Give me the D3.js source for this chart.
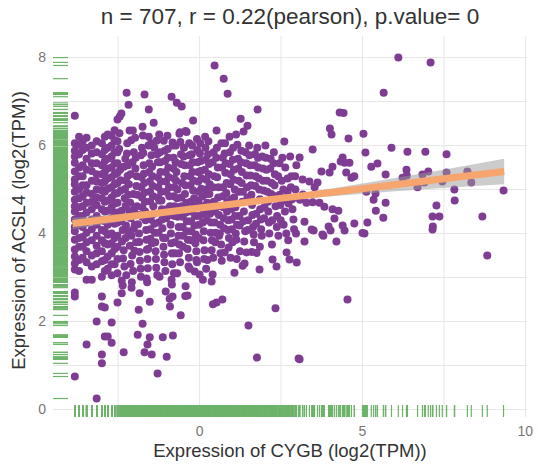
<!DOCTYPE html>
<html>
<head>
<meta charset="utf-8">
<script src="https://cdn.jsdelivr.net/npm/d3@7.9.0/dist/d3.min.js"></script>
<style>
  body { margin: 0; background: #fff; }
  text { font-family: "Liberation Sans", Arial, sans-serif; }
</style>
</head>
<body>
<div id="chart"></div>
<script>
// [CYGB, ACSL4] in log2(TPM)
const samples = [
  // low CYGB values sit in discrete columns
  [-3.83,6.68],[-3.83,6.05],[-3.83,5.75],[-3.83,5.61],[-3.83,5.41],[-3.83,5.23],[-3.83,4.95],[-3.83,4.77],
  [-3.83,4.5],[-3.83,4.32],[-3.83,4.15],[-3.83,4.05],[-3.83,3.86],[-3.83,3.64],[-3.83,3.48],[-3.83,3.18],
  [-3.83,2.66],[-3.83,2.57],[-3.83,0.75],[-3.83,5.88],[-3.83,5.12],[-3.83,4.62],[-3.83,3.32],
  [-3.7,6.2],[-3.7,5.8],[-3.7,5.5],[-3.7,5.0],[-3.7,4.6],[-3.7,4.2],[-3.7,3.9],[-3.7,3.4],
  [-3.7,6.02],[-3.7,5.3],[-3.7,4.8],[-3.7,4.4],[-3.7,3.7],[-3.7,3.15],
  [-3.59,5.9],[-3.59,5.3],[-3.59,4.85],[-3.59,4.4],[-3.59,3.7],
  [-3.59,6.1],[-3.59,5.55],[-3.59,5.1],[-3.59,4.62],[-3.59,4.15],[-3.59,3.92],[-3.59,3.45],
  [-3.47,6.18],[-3.47,5.7],[-3.47,5.45],[-3.47,5.1],[-3.47,4.7],[-3.47,4.25],[-3.47,3.8],[-3.47,3.6],[-3.47,2.95],[-3.47,1.48],
  [-3.47,5.95],[-3.47,4.93],[-3.47,4.48],[-3.47,4.02],[-3.47,3.35],
  [-3.31,6.0],[-3.31,5.6],[-3.31,5.2],[-3.31,4.9],[-3.31,4.55],[-3.31,4.1],[-3.31,3.5],[-3.31,2.95],
  [-3.31,5.82],[-3.31,5.42],[-3.31,4.72],[-3.31,4.32],[-3.31,3.85],[-3.31,3.25],
  [-3.16,6.1],[-3.16,5.85],[-3.16,5.35],[-3.16,5.0],[-3.16,4.65],[-3.16,4.4],[-3.16,3.95],[-3.16,3.3],[-3.16,2.0],[-3.16,0.25],
  [-3.16,5.6],[-3.16,5.18],[-3.16,4.82],[-3.16,4.2],[-3.16,3.72],[-3.16,3.55],
  [-3.0,6.05],[-3.0,5.55],[-3.0,5.15],[-3.0,4.8],[-3.0,4.3],[-3.0,3.85],[-3.0,3.6],[-3.0,2.57],[-3.0,2.34],[-3.0,1.25],[-3.0,1.05],
  [-3.0,5.8],[-3.0,5.35],[-3.0,4.98],[-3.0,4.55],[-3.0,4.08],[-3.0,3.37],[-3.0,3.02],
  [-2.91,6.2],[-2.91,5.9],[-2.91,5.4],[-2.91,4.95],[-2.91,4.5],[-2.91,4.05],[-2.91,3.4],[-2.91,2.32],[-2.91,1.66],
  [-2.91,5.65],[-2.91,5.18],[-2.91,4.72],[-2.91,4.28],[-2.91,3.78],[-2.91,3.15],
  [-2.82,6.25],[-2.82,5.7],[-2.82,5.25],[-2.82,4.75],[-2.82,4.2],[-2.82,3.75],[-2.82,3.2],[-2.82,1.66],
  [-2.82,5.95],[-2.82,5.48],[-2.82,5.02],[-2.82,4.52],[-2.82,3.97],[-2.82,3.48],
  [-2.7,6.0],[-2.7,5.5],[-2.7,5.05],[-2.7,4.6],[-2.7,4.0],[-2.7,3.55],[-2.7,3.05],[-2.7,1.98],[-2.7,1.52],
  [-2.7,6.22],[-2.7,5.75],[-2.7,5.28],[-2.7,4.82],[-2.7,4.35],[-2.7,3.78],[-2.7,3.3],
  [-2.61,6.35],[-2.61,5.85],[-2.61,5.35],[-2.61,4.9],[-2.61,4.45],[-2.61,3.9],[-2.61,3.3],
  [-2.61,6.12],[-2.61,5.6],[-2.61,5.12],[-2.61,4.68],[-2.61,4.22],[-2.61,3.65],
  [-2.52,6.59],[-2.52,6.1],[-2.52,5.6],[-2.52,5.15],[-2.52,4.7],[-2.52,4.25],[-2.52,3.7],[-2.52,3.1],[-2.52,2.43],
  [-2.52,5.85],[-2.52,5.38],[-2.52,4.92],[-2.52,4.48],[-2.52,3.95],[-2.52,3.42],
  // main cloud
  [-2.47,5.92],[-2.44,5.45],[-2.42,4.98],[-2.39,4.52],[-2.36,4.08],[-2.33,3.62],[-2.31,3.25],[-2.28,5.7],
  [-2.45,6.66],[-2.4,6.73],[-2.39,2.93],[-2.36,2.82],[-2.39,2.64],[-2.33,1.3],[-2.3,4.8],[-2.26,5.2],[-2.27,3.9],
  [-2.46,6.28],[-2.43,5.21],[-2.41,4.28],[-2.38,3.82],[-2.35,3.43],[-2.32,5.52],[-2.29,5.01],[-2.27,4.63],[-2.26,4.18],[-2.25,3.05],
  [-2.24,7.2],[-2.18,6.93],[-2.15,6.34],[-2.05,6.34],[-2.22,6.05],[-2.2,5.55],[-2.17,5.12],[-2.13,4.7],
  [-2.11,4.35],[-2.09,3.95],[-2.07,3.5],[-2.04,3.15],[-2.09,2.77],[-2.08,2.89],[-2.02,5.85],[-2.01,4.55],[-2.19,4.05],[-2.12,5.35],
  [-2.23,5.82],[-2.21,5.31],[-2.19,4.88],[-2.16,4.51],[-2.14,3.72],[-2.12,3.31],[-2.1,6.12],[-2.06,5.62],[-2.03,4.9],[-2.02,4.11],[-2.0,3.61],
  [-1.98,6.18],[-1.96,5.72],[-1.93,5.3],[-1.91,4.88],[-1.88,4.42],[-1.86,4.0],[-1.84,3.58],[-1.81,3.2],[-1.9,1.7],
  [-1.87,2.27],[-1.84,2.64],[-1.79,5.05],[-1.77,5.95],[-1.76,4.6],[-1.95,3.8],[-1.75,6.43],[-1.74,6.23],[-1.75,1.95],[-1.99,4.2],
  [-1.97,5.48],[-1.94,5.08],[-1.92,4.62],[-1.89,4.21],[-1.85,3.81],[-1.83,3.38],[-1.8,5.78],[-1.78,5.28],[-1.77,4.82],[-1.76,4.38],[-1.8,3.02],
  [-1.69,7.16],[-1.56,6.82],[-1.72,5.55],[-1.7,5.15],[-1.68,4.72],[-1.66,4.3],[-1.63,3.86],[-1.6,3.42],[-1.63,2.98],
  [-1.61,2.89],[-1.53,2.45],[-1.53,1.64],[-1.6,1.48],[-1.69,1.3],[-1.57,6.0],[-1.55,5.4],[-1.52,4.95],[-1.51,4.1],[-1.58,3.65],
  [-1.73,5.83],[-1.71,5.36],[-1.69,4.93],[-1.67,4.5],[-1.64,4.08],[-1.62,3.63],[-1.59,3.21],[-1.56,6.2],[-1.54,5.6],[-1.53,5.18],[-1.52,4.73],[-1.5,4.32],[-1.51,3.88],
  [-1.47,1.25],[-1.41,6.52],[-1.32,6.11],[-1.48,5.78],[-1.45,5.3],[-1.43,4.85],[-1.4,4.45],[-1.37,4.02],[-1.35,3.6],
  [-1.33,3.22],[-1.29,0.82],[-1.28,5.62],[-1.27,5.05],[-1.26,4.25],[-1.46,3.78],[-1.39,5.95],
  [-1.49,6.05],[-1.46,5.52],[-1.44,5.08],[-1.42,4.62],[-1.39,4.22],[-1.36,3.8],[-1.34,3.42],[-1.3,5.8],[-1.28,5.28],[-1.27,4.82],[-1.26,4.02],[-1.3,3.06],
  [-1.23,3.02],[-1.13,1.64],[-1.1,6.11],[-1.01,1.2],[-1.04,2.68],[-1.22,5.85],[-1.2,5.4],[-1.18,4.95],[-1.16,4.55],
  [-1.14,4.12],[-1.11,3.7],[-1.08,3.35],[-1.06,5.65],[-1.03,5.18],[-1.02,4.35],[-1.24,4.75],[-1.05,3.9],
  [-1.24,6.25],[-1.21,5.62],[-1.19,5.18],[-1.17,4.75],[-1.15,4.32],[-1.12,3.9],[-1.09,3.52],[-1.07,5.88],[-1.04,5.4],[-1.02,4.95],[-1.01,4.55],[-1.05,3.15],
  [-0.86,7.11],[-0.83,6.07],[-0.92,2.52],[-0.83,2.57],[-0.91,2.34],[-0.82,1.68],[-0.86,2.95],[-0.85,2.84],[-0.98,5.92],
  [-0.96,5.5],[-0.94,5.05],[-0.91,4.62],[-0.89,4.2],[-0.87,3.78],[-0.84,3.3],[-0.8,5.72],[-0.79,4.85],[-0.77,4.4],[-0.76,3.55],[-0.78,5.25],
  [-0.99,6.22],[-0.97,5.72],[-0.95,5.28],[-0.93,4.85],[-0.9,4.42],[-0.88,4.0],[-0.85,3.55],[-0.82,6.0],[-0.8,5.48],[-0.78,5.05],[-0.77,4.62],[-0.76,3.8],[-0.79,3.1],
  [-0.7,6.97],[-0.55,6.89],[-0.62,6.27],[-0.6,6.3],[-0.58,2.14],[-0.73,6.0],[-0.71,5.4],[-0.68,5.0],[-0.66,4.6],
  [-0.64,4.15],[-0.62,3.75],[-0.6,3.35],[-0.57,5.8],[-0.54,5.15],[-0.52,4.38],[-0.51,3.95],[-0.69,3.1],[-0.56,4.82],
  [-0.74,5.62],[-0.72,5.2],[-0.69,4.8],[-0.67,4.38],[-0.65,3.95],[-0.63,3.55],[-0.59,6.08],[-0.57,5.58],[-0.55,4.62],[-0.52,4.15],[-0.51,3.7],
  [-0.43,6.33],[-0.4,6.31],[-0.43,2.8],[-0.37,2.59],[-0.44,2.58],[-0.48,5.95],[-0.46,5.55],[-0.44,5.1],[-0.41,4.7],
  [-0.39,4.28],[-0.36,3.86],[-0.33,3.45],[-0.31,5.78],[-0.29,5.3],[-0.27,4.5],[-0.26,4.05],[-0.3,3.2],
  [-0.49,5.75],[-0.47,5.3],[-0.45,4.9],[-0.42,4.48],[-0.4,4.05],[-0.37,3.65],[-0.34,3.25],[-0.32,6.05],[-0.3,5.55],[-0.28,5.1],[-0.27,4.72],[-0.26,4.28],[-0.25,3.85],
  [-0.2,6.57],[-0.15,3.14],[-0.23,6.0],[-0.21,5.62],[-0.19,5.2],[-0.17,4.8],[-0.14,4.4],[-0.12,3.98],[-0.1,3.6],
  [-0.07,5.9],[-0.05,5.4],[-0.03,4.95],[-0.02,4.2],[-0.08,3.35],[-0.11,4.62],
  [-0.24,5.8],[-0.22,5.4],[-0.2,4.98],[-0.18,4.58],[-0.16,4.18],[-0.13,3.78],[-0.1,3.4],[-0.08,6.15],[-0.06,5.62],[-0.04,5.18],[-0.03,4.75],[-0.01,4.4],[-0.02,3.9],
  [0.0,3.07],[0.1,2.95],[0.02,6.05],[0.04,5.65],[0.06,5.25],[0.09,4.85],[0.11,4.45],[0.13,4.05],[0.15,3.62],
  [0.18,5.95],[0.2,5.0],[0.22,4.3],[0.24,3.4],[0.16,5.45],[0.23,4.7],
  [0.01,5.82],[0.03,5.42],[0.05,5.02],[0.08,4.62],[0.1,4.25],[0.12,3.85],[0.14,3.42],[0.17,6.2],[0.19,5.68],[0.21,5.22],[0.23,4.9],[0.24,4.48],[0.2,3.2],
  [0.46,7.82],[0.37,2.91],[0.4,3.07],[0.41,2.39],[0.27,6.1],[0.29,5.58],[0.31,5.12],[0.33,4.68],[0.35,4.25],
  [0.38,3.85],[0.42,3.45],[0.43,5.85],[0.45,5.3],[0.47,4.5],[0.49,4.02],
  [0.26,5.8],[0.28,5.35],[0.3,4.9],[0.32,4.45],[0.34,4.02],[0.37,3.62],[0.4,5.62],[0.42,5.05],[0.44,4.72],[0.46,4.25],[0.48,3.8],
  [0.74,7.52],[0.52,6.34],[0.52,2.43],[0.7,2.5],[0.53,5.95],[0.56,5.5],[0.58,5.05],[0.61,4.62],[0.63,4.2],
  [0.66,3.75],[0.68,3.38],[0.71,5.72],[0.72,4.85],[0.74,4.35],[0.6,3.95],
  [0.51,5.72],[0.54,5.28],[0.57,4.82],[0.59,4.42],[0.62,4.0],[0.64,3.55],[0.67,6.05],[0.69,5.5],[0.72,5.05],[0.73,4.6],[0.75,4.12],
  [0.86,7.18],[0.77,3.57],[0.78,6.05],[0.8,5.6],[0.83,5.15],[0.85,4.72],[0.88,4.3],[0.9,3.9],[0.93,5.85],
  [0.95,5.35],[0.97,4.55],[0.99,4.1],[0.92,6.2],
  [0.77,5.82],[0.79,5.38],[0.82,4.92],[0.84,4.5],[0.87,4.08],[0.89,3.68],[0.92,5.58],[0.94,5.12],[0.96,4.78],[0.98,4.32],[0.95,3.45],
  [1.01,3.8],[1.13,3.86],[1.07,3.11],[1.03,5.95],[1.05,5.45],[1.08,5.0],[1.1,4.6],[1.15,4.2],[1.18,5.7],
  [1.2,5.2],[1.22,4.4],[1.24,3.6],[1.12,6.25],
  [1.02,5.68],[1.04,5.22],[1.06,4.82],[1.09,4.4],[1.11,4.0],[1.16,6.02],[1.19,5.48],[1.21,4.95],[1.23,4.18],[1.14,3.42],
  [1.26,6.61],[1.47,6.45],[1.35,6.32],[1.32,3.27],[1.38,3.32],[1.44,3.57],[1.5,1.91],[1.28,5.88],[1.3,5.4],
  [1.33,4.95],[1.36,4.5],[1.4,4.05],[1.43,5.6],[1.46,5.05],[1.49,4.3],
  [1.27,5.62],[1.29,5.15],[1.31,4.72],[1.34,4.28],[1.37,3.82],[1.41,5.85],[1.44,5.32],[1.47,4.82],[1.48,4.08],
  [1.75,3.56],[1.76,1.18],[1.52,6.0],[1.55,5.55],[1.58,5.1],[1.61,4.65],[1.64,4.15],[1.67,3.8],[1.7,5.8],[1.72,5.3],[1.74,4.45],
  [1.53,5.78],[1.56,5.32],[1.59,4.88],[1.62,4.42],[1.66,3.98],[1.69,5.55],[1.71,5.08],[1.73,4.22],[1.6,3.58],
  [1.78,6.82],[1.84,3.18],[1.85,3.7],[1.77,5.95],[1.8,5.5],[1.83,5.0],[1.86,4.55],[1.89,4.1],[1.92,5.75],[1.95,5.2],[1.98,4.35],
  [1.79,5.72],[1.82,5.25],[1.85,4.78],[1.88,4.32],[1.91,3.95],[1.94,5.48],[1.97,4.98],[1.99,4.6],
  [2.24,3.41],[2.02,6.0],[2.05,5.45],[2.08,4.95],[2.11,4.5],[2.14,4.0],[2.18,5.7],[2.21,5.15],[2.23,4.3],
  [2.03,5.72],[2.07,5.2],[2.1,4.72],[2.13,4.25],[2.17,5.48],[2.2,4.9],[2.22,3.75],
  [2.33,2.3],[2.36,3.25],[2.28,5.85],[2.31,5.35],[2.34,4.85],[2.38,4.4],[2.42,3.95],[2.45,5.6],[2.48,4.65],
  [2.27,5.6],[2.3,5.1],[2.33,4.62],[2.37,4.15],[2.41,5.3],[2.46,4.88],[2.49,4.3],
  [2.6,6.09],[2.67,3.57],[2.52,5.2],[2.55,4.75],[2.58,4.2],[2.63,5.5],[2.7,4.95],[2.72,3.85],
  [2.54,5.72],[2.57,5.0],[2.62,4.5],[2.66,4.0],[2.7,5.25],[2.73,4.68],
  [2.76,3.41],[2.98,3.34],[2.78,5.75],[2.82,5.3],[2.85,4.55],[2.9,4.1],[2.94,5.0],[2.97,5.55],[3.04,1.16],
  [2.8,5.05],[2.84,4.78],[2.88,4.32],[2.93,5.3],[2.96,4.0],
  // high CYGB, sparser
  [3.47,5.91],[3.07,5.73],[4.0,6.39],[4.05,6.25],[4.57,6.16],[5.03,6.27],[5.09,5.84],[5.89,5.95],[6.38,5.86],
  [6.93,5.86],[7.58,5.8],[4.39,5.73],[4.33,5.64],[4.45,5.61],[4.6,5.61],[4.08,5.52],[3.99,5.39],[3.74,5.41],
  [4.5,5.39],[4.75,5.3],[4.66,5.27],[5.27,5.52],[5.46,5.59],[5.71,5.34],[6.35,5.45],[6.36,5.32],[6.23,5.27],
  [6.84,5.34],[7.02,5.41],[6.9,5.16],[6.69,5.05],[7.58,5.39],[7.45,5.18],[8.22,5.41],[8.34,5.16],[7.82,5.0],
  [7.83,4.75],[9.33,4.98],[3.16,5.23],[3.37,5.18],[3.62,5.16],[3.53,5.05],[3.17,4.89],[3.08,4.77],[5.12,4.95],
  [5.4,4.91],[5.34,4.77],[5.71,4.7],[5.41,4.52],[5.64,4.36],[7.27,4.64],[7.15,4.39],[7.36,4.39],[7.16,4.16],
  [8.68,4.39],[3.28,4.7],[3.47,4.71],[3.68,4.7],[3.83,4.61],[4.08,4.55],[4.26,4.52],[4.14,4.34],[3.96,4.16],
  [4.39,4.18],[4.75,4.23],[5.15,4.25],[5.06,4.0],[3.22,4.27],[3.44,4.09],[3.77,3.98],[3.5,4.07],[4.02,4.07],
  [4.45,4.07],[3.22,3.82],[3.8,3.95],[4.2,3.82],[5.0,4.01],[7.15,4.09],[8.83,3.5],[4.54,2.5],[3.07,1.14],
  [6.1,8.0],[7.09,7.89],[5.65,7.2],[4.3,6.75],[4.42,6.74]
];

// linear fit with its confidence band, read at a few x positions
const fitX  = [-3.9, -2, 0, 2, 4, 6, 8, 9.35];
const fitY  = [4.23, 4.40, 4.58, 4.76, 4.93, 5.11, 5.29, 5.41];
const fitLo = [4.10, 4.32, 4.53, 4.71, 4.84, 4.96, 5.06, 5.12];
const fitHi = [4.36, 4.48, 4.63, 4.81, 5.02, 5.26, 5.52, 5.70];

const xMajor = [0, 5, 10];
const xMinor = [-2.5, 2.5, 7.5];
const yMajor = [0, 2, 4, 6, 8];
const yMinor = [1, 3, 5, 7];

const title = 'n = 707, r = 0.22(pearson), p.value= 0';
const xTitle = 'Expression of CYGB (log2(TPM))';
const yTitle = 'Expression of ACSL4 (log2(TPM))';

const W = 541, H = 465;
const panel = { left: 53, right: 527, top: 36, bottom: 417 };

const svg = d3.select('#chart').append('svg')
  .attr('width', W)
  .attr('height', H);

const x = d3.scaleLinear().domain([-4.5, 10.05]).range([panel.left, panel.right]);
const y = d3.scaleLinear().domain([-0.17, 8.49]).range([panel.bottom, panel.top]);

// grid
const grid = svg.append('g').attr('stroke', '#e8e6e6').attr('stroke-width', 1);
grid.selectAll('line.h')
  .data(yMajor.concat(yMinor))
  .join('line')
  .attr('x1', panel.left).attr('x2', panel.right)
  .attr('y1', d => y(d)).attr('y2', d => y(d));
grid.selectAll('line.v')
  .data(xMajor.concat(xMinor))
  .join('line')
  .attr('y1', panel.top).attr('y2', panel.bottom)
  .attr('x1', d => x(d)).attr('x2', d => x(d));

// points
svg.append('g')
  .selectAll('circle')
  .data(samples)
  .join('circle')
  .attr('cx', d => x(d[0]))
  .attr('cy', d => y(d[1]))
  .attr('r', 4)
  .attr('fill', '#7e3d93');

// rugs
const rug = svg.append('g').attr('stroke', '#6db36a').attr('stroke-width', 1.2);
rug.selectAll('line.rx')
  .data(samples)
  .join('line')
  .attr('x1', d => x(d[0])).attr('x2', d => x(d[0]))
  .attr('y1', panel.bottom - 12).attr('y2', panel.bottom);
rug.selectAll('line.ry')
  .data(samples)
  .join('line')
  .attr('y1', d => y(d[1])).attr('y2', d => y(d[1]))
  .attr('x1', panel.left).attr('x2', panel.left + 15);

// confidence band + fit line
const fitRows = fitX.map((v, i) => ({ x: v, y: fitY[i], lo: fitLo[i], hi: fitHi[i] }));
svg.append('path')
  .datum(fitRows)
  .attr('d', d3.area().x(d => x(d.x)).y0(d => y(d.lo)).y1(d => y(d.hi)).curve(d3.curveMonotoneX))
  .attr('fill', '#9a9a9a')
  .attr('opacity', 0.5);
svg.append('path')
  .datum(fitRows)
  .attr('d', d3.line().x(d => x(d.x)).y(d => y(d.y)))
  .attr('fill', 'none')
  .attr('stroke', '#f5a56d')
  .attr('stroke-width', 7);

// tick labels
svg.append('g')
  .selectAll('text')
  .data(yMajor)
  .join('text')
  .attr('x', panel.left - 7)
  .attr('y', d => y(d))
  .attr('dy', '0.35em')
  .attr('text-anchor', 'end')
  .attr('font-size', 14)
  .attr('fill', '#777')
  .text(d => d);
svg.append('g')
  .selectAll('text')
  .data(xMajor)
  .join('text')
  .attr('x', d => x(d))
  .attr('y', 436)
  .attr('text-anchor', 'middle')
  .attr('font-size', 14)
  .attr('fill', '#777')
  .text(d => d);

// titles
svg.append('text')
  .attr('x', (panel.left + panel.right) / 2)
  .attr('y', 24)
  .attr('text-anchor', 'middle')
  .attr('font-size', 22.5)
  .attr('fill', '#333')
  .text(title);
svg.append('text')
  .attr('x', (panel.left + panel.right) / 2)
  .attr('y', 457)
  .attr('text-anchor', 'middle')
  .attr('font-size', 18.5)
  .attr('fill', '#333')
  .text(xTitle);
svg.append('text')
  .attr('transform', `translate(25,${(panel.top + panel.bottom) / 2 + 4}) rotate(-90)`)
  .attr('text-anchor', 'middle')
  .attr('font-size', 18.5)
  .attr('fill', '#333')
  .text(yTitle);
</script>
</body>
</html>
